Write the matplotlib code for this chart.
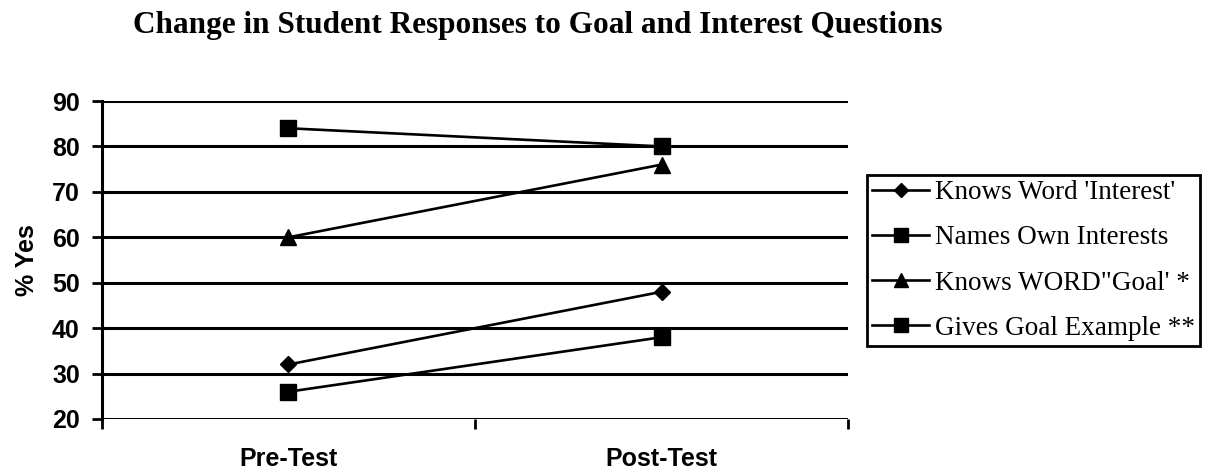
import matplotlib
matplotlib.use("Agg")
import matplotlib.pyplot as plt

categories = ["Pre-Test", "Post-Test"]
series_names = ["Knows Word 'Interest'", "Names Own Interests", "Knows WORD\"Goal' *", "Gives Goal Example **"]
knows_interest = [32, 48]
names_interests = [84, 80]
knows_goal = [60, 76]
goal_example = [26, 38]
y_ticks = [20, 30, 40, 50, 60, 70, 80, 90]

fig = plt.figure(figsize=(12.11, 4.72), dpi=100)
ax = fig.add_axes([0.0842, 0.1123, 0.6161, 0.6737])

xs = [0.5, 1.5]
markers = ["D", "s", "^", "s"]
msizes = [8.5, 11.5, 11.5, 11.5]
data = [knows_interest, names_interests, knows_goal, goal_example]
handles = []
for vals, m, ms, name in zip(data, markers, msizes, series_names):
    h, = ax.plot(xs, vals, color="black", lw=1.9, marker=m, markersize=ms,
                 markerfacecolor="black", markeredgecolor="black", label=name,
                 zorder=3, clip_on=False)
    handles.append(h)

ax.set_xlim(0, 2)
ax.set_ylim(20, 90)
ax.set_yticks(y_ticks)
for y in y_ticks:
    ax.axhline(y, color="black", lw=2.2, zorder=1)

for s in ["top", "right", "bottom"]:
    ax.spines[s].set_visible(False)
ax.spines["left"].set_linewidth(2.2)

ax.set_xticks([0, 1, 2])
ax.set_xticklabels([])
ax.set_xticks(xs, minor=True)
ax.set_xticklabels(categories, minor=True, fontsize=18, fontweight="bold", family="Liberation Sans")
ax.tick_params(axis="x", which="major", direction="out", length=7, width=2)
ax.tick_params(axis="x", which="minor", length=0, pad=20)
ax.tick_params(axis="y", direction="out", length=7, width=2, pad=9)
for lab in ax.get_yticklabels():
    lab.set_fontsize(18)
    lab.set_fontweight("bold")
    lab.set_family("Liberation Sans")

ax.set_ylabel("% Yes", fontsize=18, fontweight="bold", family="Liberation Sans")
ax.yaxis.set_label_coords(-0.084, 0.5)

fig.text(0.1098, 0.930, "Change in Student Responses to Goal and Interest Questions",
         fontsize=22.5, fontweight="bold", family="Liberation Serif", ha="left", va="baseline")

leg = fig.legend(handles=handles, loc="upper left", bbox_to_anchor=(0.7159, 0.6292),
                 frameon=True, fancybox=False, edgecolor="black", framealpha=1,
                 prop={"family": "Liberation Serif", "size": 19.5},
                 handlelength=2.1, handletextpad=0.2, labelspacing=0.74,
                 borderpad=0.2, borderaxespad=0, markerscale=0.85)
leg.get_frame().set_linewidth(2.0)

fig.savefig("out.png", dpi=100)
